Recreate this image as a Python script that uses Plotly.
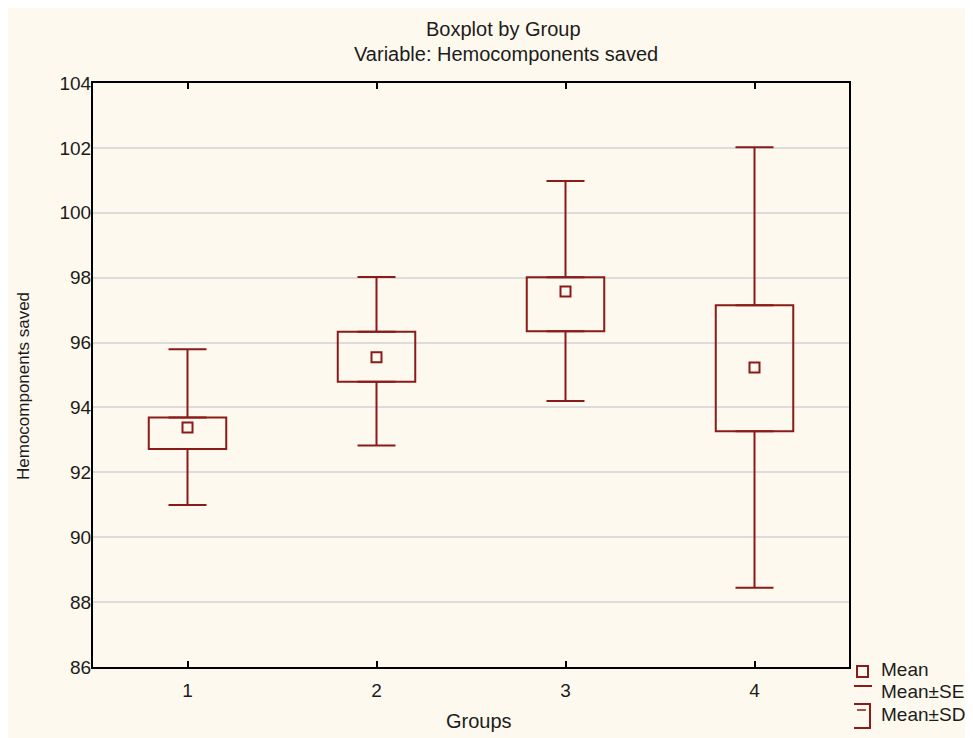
import plotly.graph_objects as go

# ---- data ----
groups = [1, 2, 3, 4]
group_labels = ["1", "2", "3", "4"]
mean = [93.38, 95.55, 97.57, 95.23]
se_low = [92.72, 94.79, 96.35, 93.27]
se_high = [93.69, 96.33, 98.01, 97.15]
sd_low = [90.99, 92.83, 94.20, 88.44]
sd_high = [95.79, 98.02, 100.98, 102.02]
y_ticks = [86, 88, 90, 92, 94, 96, 98, 100, 102, 104]
legend_labels = ["Mean", "Mean±SE", "Mean±SD"]

# ---- layout geometry (screen pixels; page body has an 8px margin) ----
OFF = 8
W, H = 973 - OFF, 738 - OFF
L, R, T, B = 93, 849, 83, 667   # plot area edges on screen
RED = "#8b1a1a"
CREAM = "#fef9ee"
FONT = "Liberation Sans, Arial, sans-serif"
TXT = "#1c1c1c"


def px(xp):
    return (xp - L) / (R - L)


def py(yp):
    return (B - yp) / (B - T)


fig = go.Figure()

# whiskers (Mean±SD) drawn from the box edges outward
fig.add_trace(go.Scatter(
    x=groups, y=se_high, mode="markers",
    marker=dict(size=1, color="rgba(0,0,0,0)"),
    error_y=dict(type="data", symmetric=False,
                 array=[h - t for h, t in zip(sd_high, se_high)],
                 arrayminus=[0] * len(groups),
                 color=RED, thickness=2, width=19),
    showlegend=False, hoverinfo="skip"))
fig.add_trace(go.Scatter(
    x=groups, y=se_low, mode="markers",
    marker=dict(size=1, color="rgba(0,0,0,0)"),
    error_y=dict(type="data", symmetric=False,
                 array=[0] * len(groups),
                 arrayminus=[b - l for b, l in zip(se_low, sd_low)],
                 color=RED, thickness=2, width=19),
    showlegend=False, hoverinfo="skip"))

# boxes (Mean±SE)
fig.add_trace(go.Bar(
    x=groups, base=se_low, y=[h - l for h, l in zip(se_high, se_low)],
    width=0.41,
    marker=dict(color="rgba(0,0,0,0)", line=dict(color=RED, width=2)),
    showlegend=False, hoverinfo="skip"))

# means
fig.add_trace(go.Scatter(
    x=groups, y=mean, mode="markers",
    marker=dict(symbol="square-open", size=10, color=RED,
                line=dict(color=RED, width=2)),
    showlegend=False))

shapes = []
# legend symbols
shapes.append(dict(type="rect", xref="paper", yref="paper",
                   x0=px(857), x1=px(868), y0=py(677), y1=py(666),
                   line=dict(color=RED, width=2), fillcolor="rgba(0,0,0,0)"))
shapes.append(dict(type="line", xref="paper", yref="paper",
                   x0=px(854), x1=px(872), y0=py(686), y1=py(686),
                   line=dict(color=RED, width=2)))
shapes.append(dict(type="path", xref="paper", yref="paper",
                   path="M {a},{b} L {c},{b} L {c},{d} L {a},{d}".format(
                       a=px(854), c=px(870), b=py(704), d=py(728)),
                   line=dict(color=RED, width=2)))
shapes.append(dict(type="line", xref="paper", yref="paper",
                   x0=px(857), x1=px(866), y0=py(710), y1=py(710),
                   line=dict(color=RED, width=1.5)))

annotations = []
annotations.append(dict(text="Boxplot by Group", xref="paper", yref="paper",
                        x=px(504), y=py(29), showarrow=False,
                        xanchor="center", yanchor="middle",
                        font=dict(family=FONT, size=20, color=TXT)))
annotations.append(dict(text="Variable: Hemocomponents saved", xref="paper", yref="paper",
                        x=px(506), y=py(54), showarrow=False,
                        xanchor="center", yanchor="middle",
                        font=dict(family=FONT, size=20, color=TXT)))
annotations.append(dict(text="Groups", xref="paper", yref="paper",
                        x=px(479), y=py(721), showarrow=False,
                        xanchor="center", yanchor="middle",
                        font=dict(family=FONT, size=20, color=TXT)))
annotations.append(dict(text="Hemocomponents saved", xref="paper", yref="paper",
                        x=px(23), y=py(386), showarrow=False, textangle=-90,
                        xanchor="center", yanchor="middle",
                        font=dict(family=FONT, size=17, color=TXT)))
for lab, yc in zip(legend_labels, [669, 691, 715]):
    annotations.append(dict(text=lab, xref="paper", yref="paper",
                            x=px(879), y=py(yc), showarrow=False,
                            xanchor="left", yanchor="middle",
                            font=dict(family=FONT, size=19, color=TXT)))

fig.update_layout(
    width=W, height=H,
    margin=dict(l=L - OFF, r=(W + OFF) - R, t=T - OFF, b=(H + OFF) - B, pad=0),
    paper_bgcolor=CREAM, plot_bgcolor=CREAM,
    showlegend=False,
    shapes=shapes, annotations=annotations,
    font=dict(family=FONT, size=18, color=TXT),
)
fig.update_xaxes(
    range=[0.5, 4.5], tickmode="array", tickvals=groups, ticktext=group_labels,
    ticks="inside", ticklen=6, tickwidth=2, tickcolor="black",
    showline=True, linecolor="black", linewidth=2, mirror="ticks",
    showgrid=False, zeroline=False, ticklabelstandoff=5,
    tickfont=dict(family=FONT, size=19, color=TXT))
fig.update_yaxes(
    range=[86, 104], tickmode="array", tickvals=y_ticks,
    ticks="", showline=True, linecolor="black", linewidth=2, mirror=True,
    showgrid=True, gridcolor="#dcdcdc", gridwidth=2, zeroline=False,
    ticklabelstandoff=-4,
    tickfont=dict(family=FONT, size=19, color=TXT))

fig.write_html("out.html")
